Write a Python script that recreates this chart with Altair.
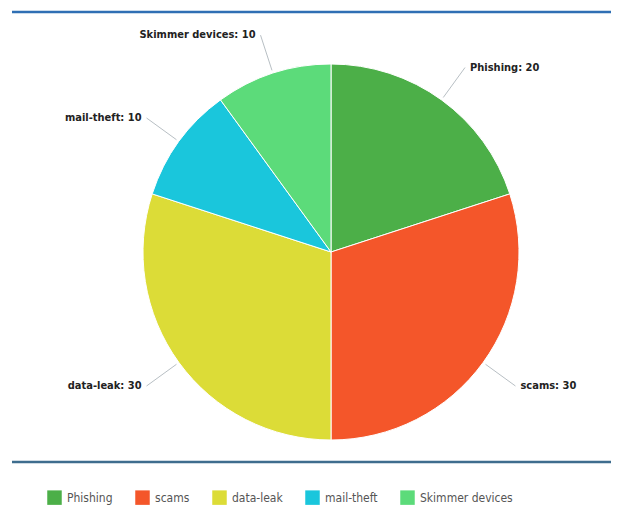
import altair as alt
import pandas as pd

categories = ["Phishing", "scams", "data-leak", "mail-theft", "Skimmer devices"]
values = [20, 30, 30, 10, 10]
colors = ["#4caf48", "#f4562a", "#dcdc37", "#1ac6dc", "#5cdb7a"]

df = pd.DataFrame({"category": categories, "value": values, "order": list(range(len(categories)))})

CX, CY, R = 323, 244, 188
R1, R2 = R + 3, R + 40
FONT = "DejaVu Sans Condensed, Liberation Sans Narrow, sans-serif"

color_enc = alt.Color(
    "category:N",
    scale=alt.Scale(domain=categories, range=colors),
    sort=categories,
    legend=alt.Legend(
        orient="none", legendX=39, legendY=482, direction="horizontal", title=None,
        symbolType="square", symbolSize=210, symbolStrokeWidth=0,
        labelFont=FONT, labelFontSize=12, labelColor="#555555",
        columnPadding=22, labelOffset=5,
    ),
)

pie = alt.Chart(df).mark_arc(radius=R, stroke="white", strokeWidth=1).encode(
    theta=alt.Theta("value:Q", stack=True),
    color=color_enc,
    order=alt.Order("order:Q"),
    x=alt.value(CX),
    y=alt.value(CY),
)

geo = alt.Chart(df).transform_joinaggregate(total="sum(value)").transform_window(
    cum="sum(value)", sort=[alt.SortField("order")], frame=[None, 0]
).transform_calculate(
    mid="2*PI*(datum.cum - datum.value/2)/datum.total",
).transform_calculate(
    x1=f"{CX} + {R1}*sin(datum.mid)",
    y1=f"{CY} - {R1}*cos(datum.mid)",
    x2=f"{CX} + {R2}*sin(datum.mid)",
    y2=f"{CY} - {R2}*cos(datum.mid)",
    label="datum.category + ': ' + datum.value",
    side="sin(datum.mid) >= 0 ? 1 : -1",
)

leaders = geo.mark_rule(color="#b8bfc4", strokeWidth=1).encode(
    x=alt.X("x1:Q", scale=None, axis=None),
    y=alt.Y("y1:Q", scale=None, axis=None),
    x2="x2:Q",
    y2="y2:Q",
)

right_labels = geo.transform_filter("datum.side > 0").mark_text(
    align="left", baseline="middle", dx=5, font=FONT, fontSize=11, fontWeight="bold", color="#222222"
).encode(
    x=alt.X("x2:Q", scale=None, axis=None),
    y=alt.Y("y2:Q", scale=None, axis=None),
    text="label:N",
)

left_labels = geo.transform_filter("datum.side < 0").mark_text(
    align="right", baseline="middle", dx=-5, font=FONT, fontSize=11, fontWeight="bold", color="#222222"
).encode(
    x=alt.X("x2:Q", scale=None, axis=None),
    y=alt.Y("y2:Q", scale=None, axis=None),
    text="label:N",
)

one = pd.DataFrame({"a": [0]})
top_line = alt.Chart(one).mark_rule(color="#2f6fb4", strokeWidth=2.5).encode(
    x=alt.value(4), x2=alt.value(603), y=alt.value(4)
)
bottom_line = alt.Chart(one).mark_rule(color="#3e6d8e", strokeWidth=2.5).encode(
    x=alt.value(4), x2=alt.value(603), y=alt.value(454)
)

chart = alt.layer(top_line, bottom_line, pie, leaders, right_labels, left_labels).properties(
    width=603, height=498, padding=0, autosize=alt.AutoSizeParams(type="none")
).configure_view(stroke=None)

chart.save("out.html", embed_options={"renderer": "svg", "actions": False})
